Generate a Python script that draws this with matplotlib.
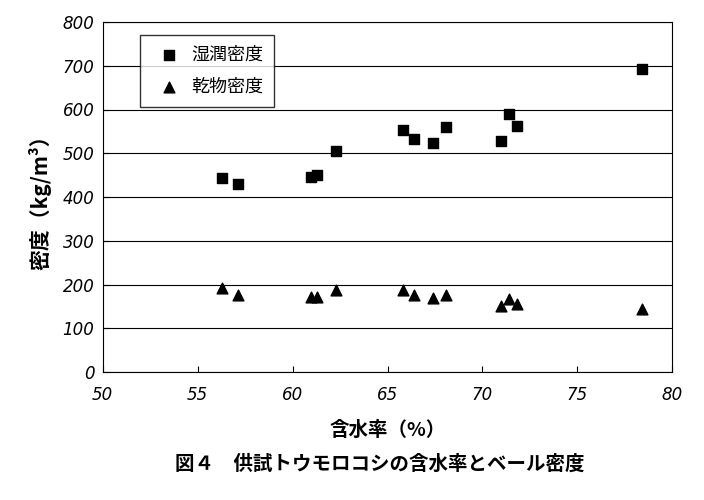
import matplotlib.pyplot as plt

plt.rcParams['font.family'] = ['Noto Sans CJK JP', 'DejaVu Sans']

# 含水率 (%)
moisture = [56.3, 57.1, 60.95, 61.3, 62.3, 65.8, 66.4, 67.4, 68.1, 71.0, 71.4, 71.8, 78.4]
# 湿潤密度 (kg/m3)
wet_density = [443, 430, 445, 450, 505, 553, 533, 523, 560, 528, 590, 562, 693]
# 乾物密度 (kg/m3)
dry_density = [192, 176, 171, 171, 187, 187, 176, 169, 176, 151, 167, 155, 144]

x_ticks = [50, 55, 60, 65, 70, 75, 80]
y_ticks = [0, 100, 200, 300, 400, 500, 600, 700, 800]

fig = plt.figure(figsize=(7.04, 5.0), dpi=100)
ax = fig.add_axes([0.146, 0.256, 0.809, 0.70])

ax.scatter(moisture, wet_density, marker="s", s=55, color="black", label="湿潤密度", zorder=3)
ax.scatter(moisture, dry_density, marker="^", s=60, color="black", label="乾物密度", zorder=3)

ax.set_xlim(50, 80)
ax.set_ylim(0, 800)
ax.set_xticks(x_ticks)
ax.set_yticks(y_ticks)
ax.yaxis.grid(True, color="black", linewidth=0.8)
ax.set_axisbelow(True)
ax.tick_params(direction="in", labelsize=12, length=4)
ax.tick_params(axis="x", pad=10)
ax.tick_params(axis="y", pad=6)
for lab in ax.get_xticklabels() + ax.get_yticklabels():
    lab.set_fontstyle("italic")
    lab.set_family("DejaVu Sans")

ax.set_ylabel("密度（kg/m³）", fontsize=15, labelpad=8, fontweight="bold")
ax.set_xlabel("含水率（%）", fontsize=14, labelpad=12, fontweight="bold")

leg = ax.legend(loc="upper left", bbox_to_anchor=(0.05, 0.99), fontsize=13,
                frameon=True, fancybox=False, edgecolor="black",
                handletextpad=0.2, labelspacing=0.8, borderpad=0.6)
leg.get_frame().set_linewidth(1.0)

fig.text(0.54, 0.06, "図４　供試トウモロコシの含水率とベール密度", ha="center",
         fontsize=14, fontweight="bold")

fig.savefig("out.png", dpi=100)
